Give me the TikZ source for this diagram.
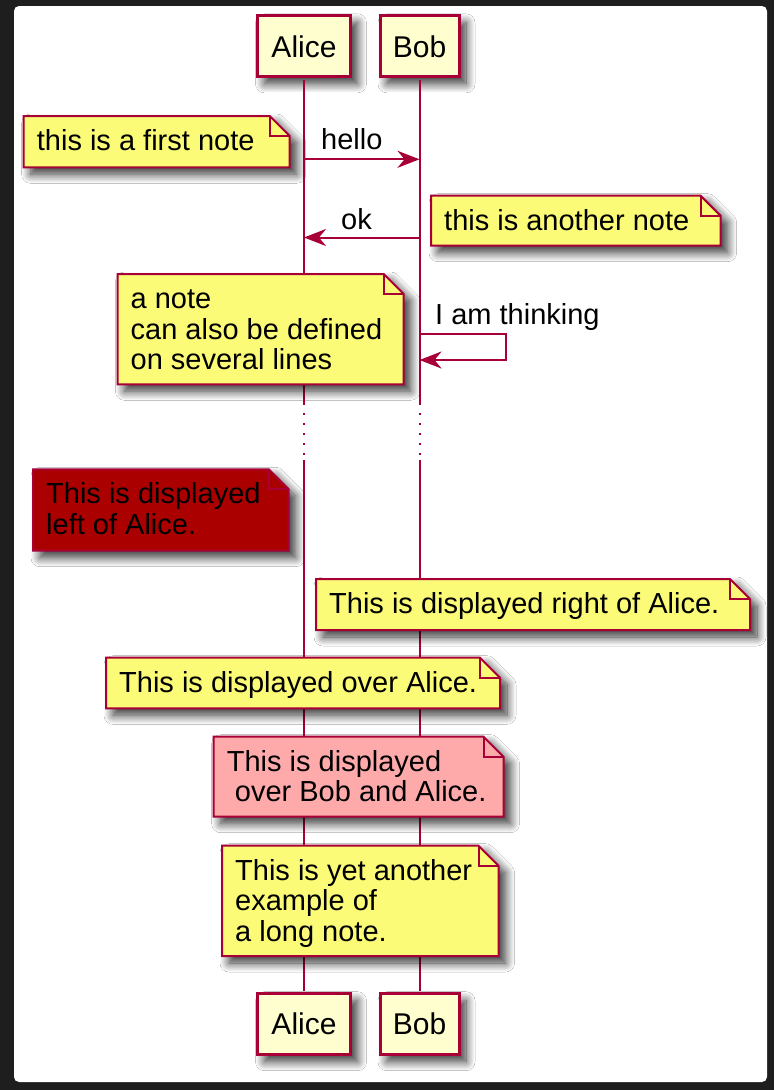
\documentclass[tikz,border=0pt]{standalone}
\usepackage{fontspec}
\setmainfont{Liberation Sans}
\usetikzlibrary{arrows.meta, shadows.blur}
\definecolor{umlred}{HTML}{A80036}
\definecolor{notefill}{HTML}{FBFB77}
\definecolor{actorfill}{HTML}{FEFECE}
\definecolor{leftfill}{HTML}{AA0000}
\definecolor{pinkfill}{HTML}{FFAAAA}
\definecolor{framebg}{HTML}{1E1E1E}
\tikzset{
  umlshadow/.style={blur shadow={shadow xshift=7pt, shadow yshift=-7pt, shadow blur radius=9pt, shadow blur steps=14, shadow opacity=80}},
  actor/.style={draw=umlred, line width=3pt, fill=actorfill, minimum height=61pt, inner sep=0pt, umlshadow, font=\fontsize{30}{32}\selectfont},
  life/.style={draw=umlred, line width=2pt},
  msg/.style={draw=umlred, line width=2pt, -{Stealth[length=22pt, width=17pt, inset=7pt]}},
  msglabel/.style={anchor=base west, inner sep=0pt, font=\fontsize{29}{30.5}\selectfont},
  notebox/.style={draw=umlred, line width=2pt, line join=miter},
  notetext/.style={anchor=base west, inner sep=0pt, font=\fontsize{29}{30.5}\selectfont}
}
\newcommand\umlnote[7]{%
  \filldraw[notebox, fill=#6, umlshadow] (#2,#3) -- (#4-20,#3) -- (#4,#3+20) -- (#4,#5) -- (#2,#5) -- cycle;
  \draw[notebox] (#4-20,#3) -- (#4-20,#3+20) -- (#4,#3+20);
  \node[notetext] (#1) at (#2+13,#3+34.5) {\begin{tabular}[t]{@{}l@{}}#7\end{tabular}};
}
\begin{document}
\begin{tikzpicture}[x=1pt, y=-1pt]
\useasboundingbox (0,0) rectangle (774,1090);
\fill[framebg] (0,0) rectangle (774,1090);
\fill[white, rounded corners=5pt] (14,6) rectangle (767,1082);
\node[actor, minimum width=93pt] (alice) at (304,46.3) {Alice};
\node[actor, minimum width=79pt] (bob) at (419.5,46.3) {Bob};
\node[actor, minimum width=93pt] (alicefoot) at (304,1024.2) {Alice};
\node[actor, minimum width=79pt] (bobfoot) at (419.5,1024.2) {Bob};
\coordinate (abreak) at (alice |- 0,405);
\coordinate (bbreak) at (bob |- 0,405);
\coordinate (aresume) at (alice |- 0,460);
\coordinate (bresume) at (bob |- 0,460);
\draw[life] ([yshift=-1.5pt]alice.south) -- (abreak);
\draw[life] ([yshift=-1.5pt]bob.south) -- (bbreak);
\draw[life, dash pattern=on 2pt off 8pt] ([yshift=-8pt]abreak) -- ([yshift=4pt]aresume);
\draw[life, dash pattern=on 2pt off 8pt] ([yshift=-8pt]bbreak) -- ([yshift=4pt]bresume);
\draw[life] (aresume) -- ([yshift=1.5pt]alicefoot.north);
\draw[life] (bresume) -- ([yshift=1.5pt]bobfoot.north);
\umlnote{firstnote}{23.7}{116}{289.7}{167.3}{notefill}{this is a first note}
\umlnote{anothernote}{431}{195.7}{720.6}{245.7}{notefill}{this is another note}
\umlnote{severalnote}{117.5}{274}{403.7}{384.3}{notefill}{a note\\can also be defined\\on several lines}
\umlnote{leftnote}{33}{469.3}{288.7}{550.7}{leftfill}{This is displayed\\left of Alice.}
\umlnote{rightnote}{316}{579}{750}{630}{notefill}{This is displayed right of Alice.}
\umlnote{overnote}{106}{657.7}{500}{708.3}{notefill}{This is displayed over Alice.}
\umlnote{bothnote}{213.7}{736.7}{503.5}{816.7}{pinkfill}{This is displayed\\\ over Bob and Alice.}
\umlnote{longnote}{222}{845.7}{498.5}{956}{notefill}{This is yet another\\example of\\a long note.}
\draw[msg] (alice |- 0,159.3) -- (bob |- 0,159.3);
\node[msglabel] (hellolabel) at (321,149) {hello};
\draw[msg] (bob |- 0,237.5) -- (alice |- 0,237.5);
\coordinate (selfout) at (506,334);
\coordinate (selfback) at (506,360);
\draw[msg] (bob |- selfout) -- (selfout) -- (selfback) -- (bob |- selfback);
\node[msglabel] (oklabel) at (341,229) {ok};
\node[msglabel] (thinklabel) at (435,324) {I am thinking};
\end{tikzpicture}
\end{document}
